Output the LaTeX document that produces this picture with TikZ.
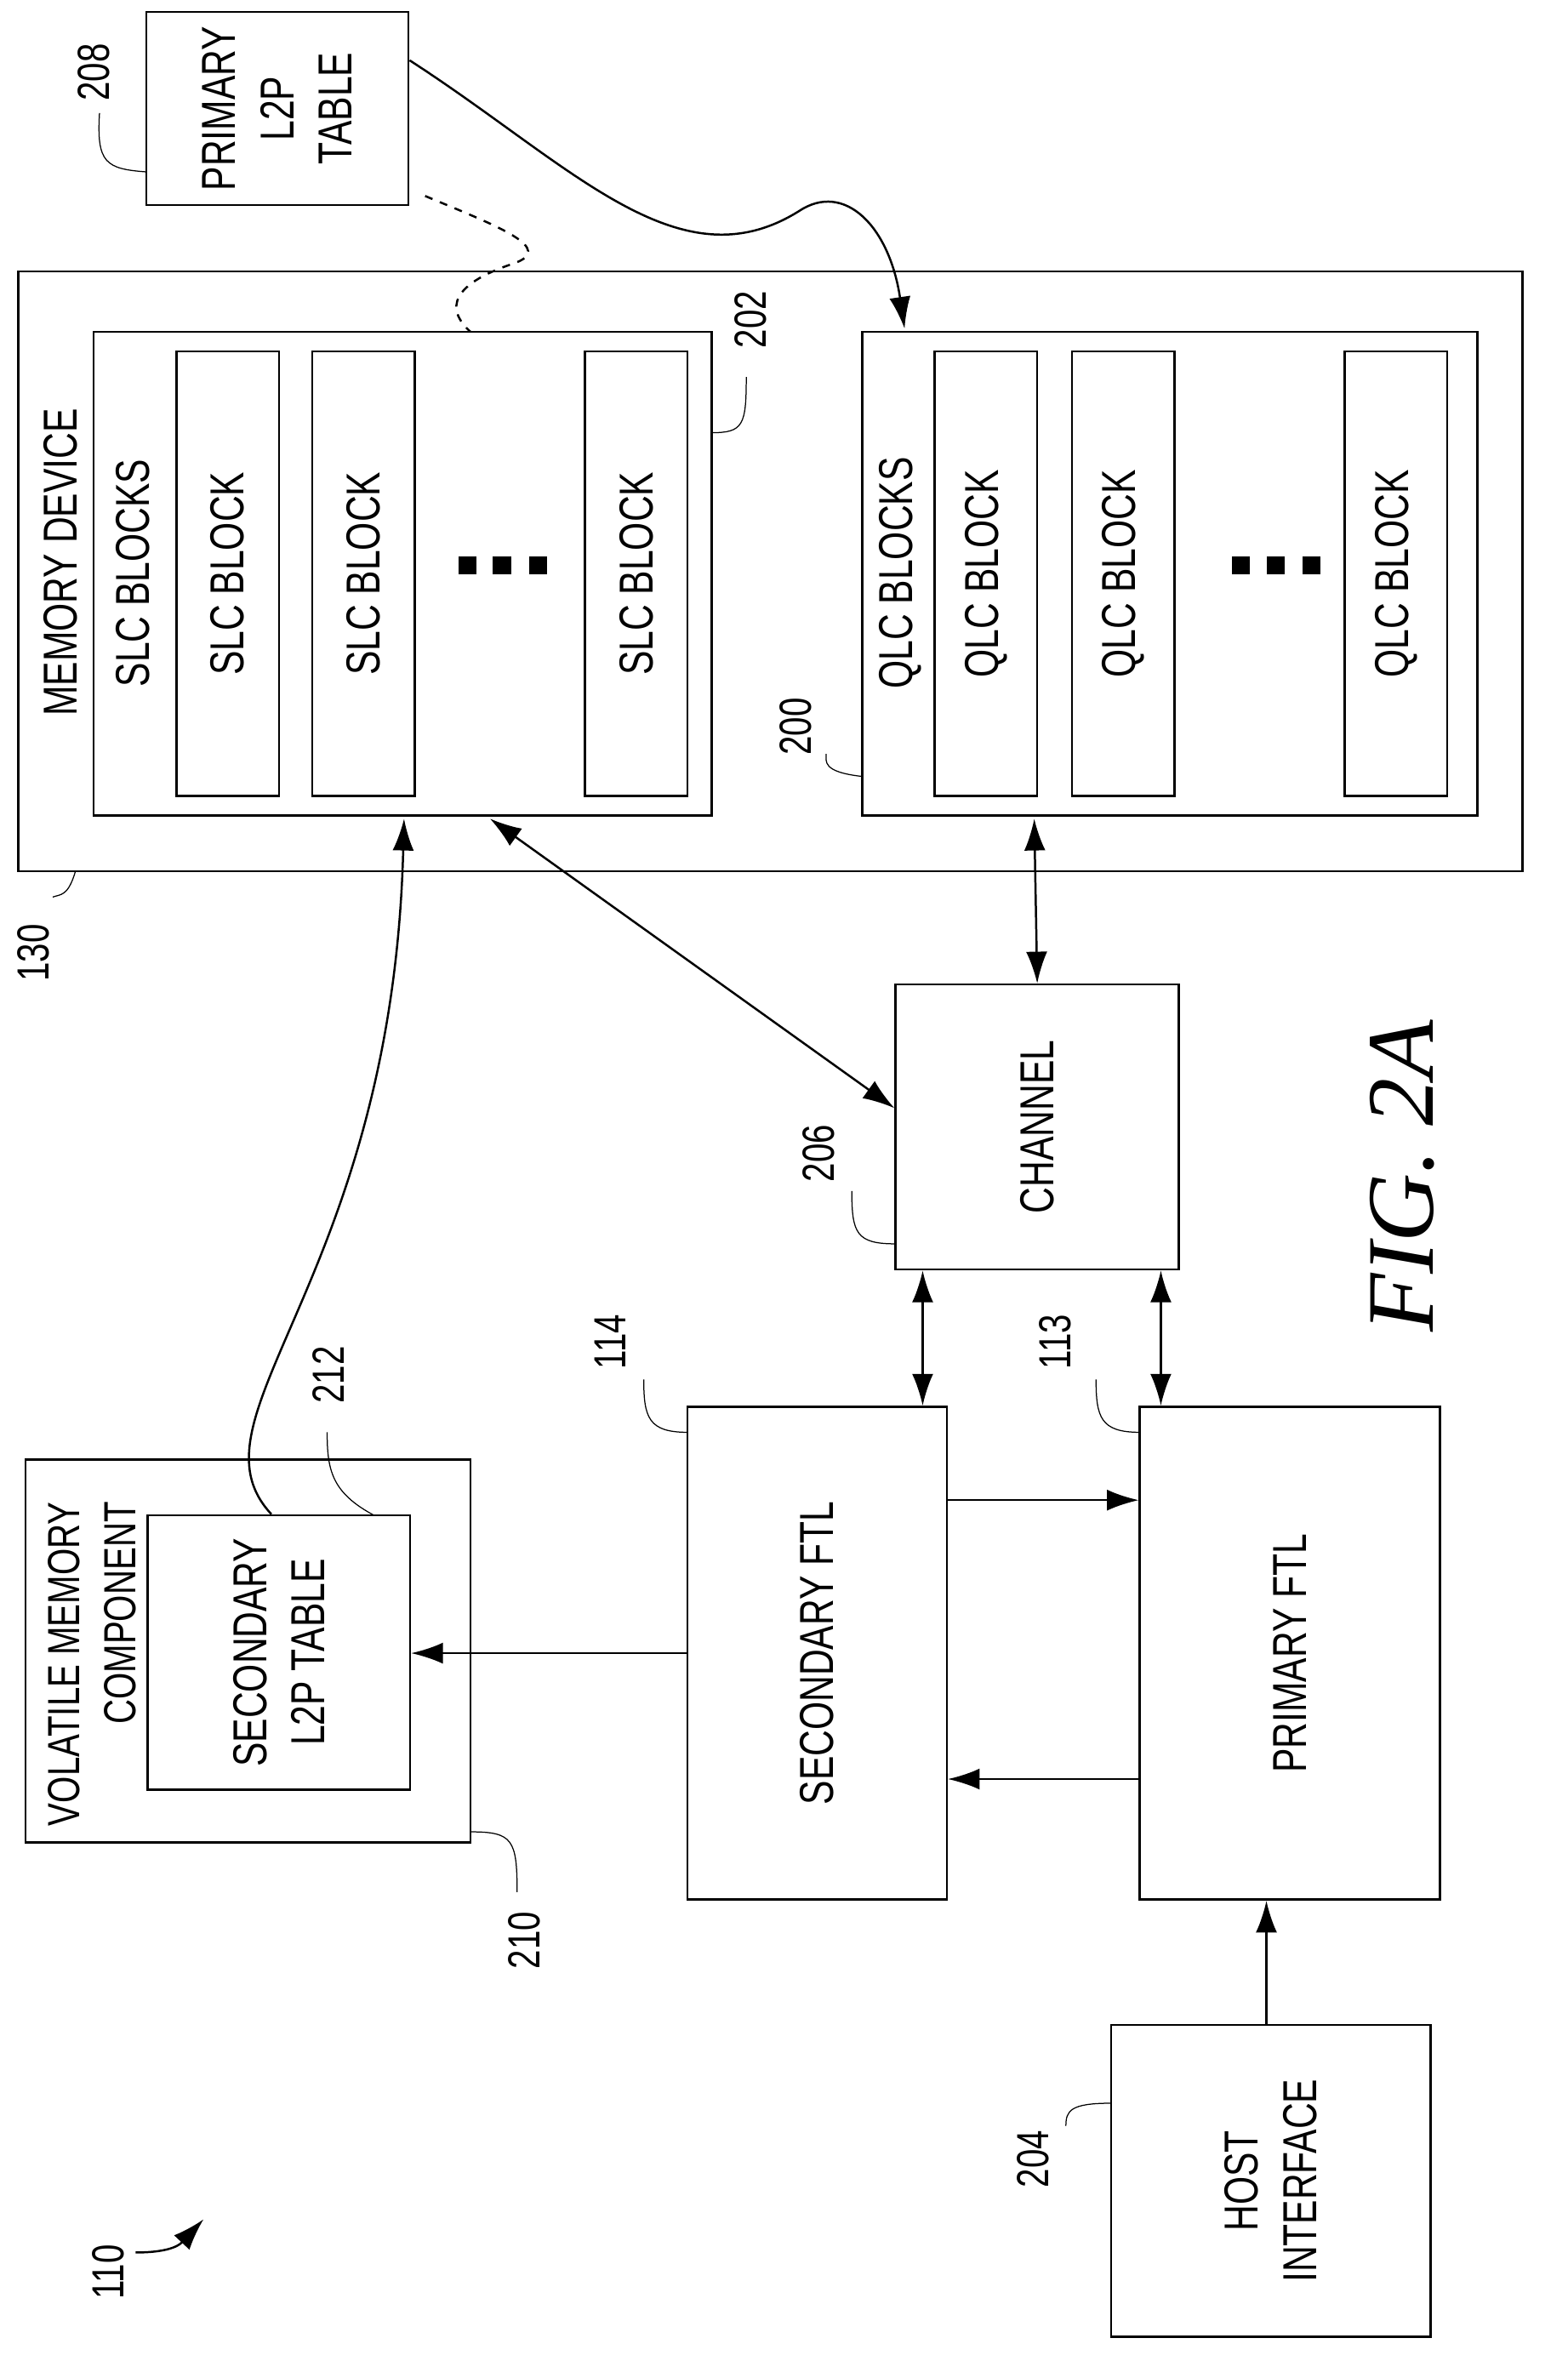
\documentclass[tikz,border=0pt]{standalone}
\usepackage{fontspec}
\setmainfont{Liberation Sans}[FakeStretch=0.76]
\newfontfamily\figfont{Liberation Serif}
\usetikzlibrary{arrows.meta,calc}

\tikzset{
  box/.style={draw,line width=0.8pt,inner sep=0pt},
  lbl/.style={rotate=90,font=\fontsize{18}{22}\selectfont,align=center},
  num/.style={rotate=90,font=\fontsize{17}{20}\selectfont},
  tip/.tip={Latex[length=12pt,width=8pt]},
  conn/.style={line width=0.8pt,-tip},
  dconn/.style={line width=0.8pt,tip-tip},
}

\begin{document}
\begin{tikzpicture}[x=0.02cm,y=-0.02cm]
    \useasboundingbox (0,0) rectangle (1040,1566);

    % boxes
    \node[box,minimum width=3.48cm,minimum height=2.56cm] (prim) at (184,72) {};
    \node[lbl] at (prim) {PRIMARY\\L2P\\TABLE};
    \node[box,minimum width=19.96cm,minimum height=7.96cm] (mem) at (511,379) {};
    \node[lbl] at (40,373) {MEMORY DEVICE};
    \node[box,minimum width=8.2cm,minimum height=6.42cm] (slc) at (267,380.5) {};
    \node[lbl] at (88,380) {SLC BLOCKS};
    \node[box,minimum width=8.16cm,minimum height=6.42cm] (qlc) at (776,380.5) {};
    \node[lbl] at (597,380) {QLC BLOCKS};
    \foreach \x [count=\i] in {151,241,422}{
        \node[box,minimum width=1.36cm,minimum height=5.9cm] (s\i) at (\x,380.5) {};
        \node[lbl] at (s\i) {SLC BLOCK};
    }
    \foreach \x [count=\i] in {654,745,926}{
        \node[box,minimum width=1.36cm,minimum height=5.9cm] (q\i) at (\x,380.5) {};
        \node[lbl] at (q\i) {QLC BLOCK};
    }
    \foreach \x in {310,333,357,823,846,870}
        \fill (\x-6,369) rectangle (\x+6,381);

    \node[box,minimum width=3.76cm,minimum height=3.78cm] (chan) at (688,747.5) {};
    \node[lbl] at (chan) {CHANNEL};
    \node[box,minimum width=3.44cm,minimum height=6.54cm] (sftl) at (542,1096.5) {};
    \node[lbl] at (sftl) {SECONDARY FTL};
    \node[box,minimum width=3.98cm,minimum height=6.54cm] (pftl) at (855.5,1096.5) {};
    \node[lbl] at (pftl) {PRIMARY FTL};
    \node[box,minimum width=4.24cm,minimum height=4.14cm] (host) at (843,1446.5) {};
    \node[lbl] at (host) {HOST\\INTERFACE};
    \node[box,minimum width=5.9cm,minimum height=5.08cm] (vol) at (164.5,1095) {};
    \node[lbl,anchor=east,align=right,font=\fontsize{17}{21}\selectfont] at (61,990) {VOLATILE MEMORY\\COMPONENT};
    \node[box,minimum width=3.48cm,minimum height=3.64cm] (sl2p) at (185,1096) {};
    \node[lbl] at (sl2p) {SECONDARY\\L2P TABLE};

    % reference numerals
    \node[num] at (62,48) {208};
    \draw (66,75) .. controls (64,108) and (70,112) .. (97,114);
    \node[num] at (498,212) {202};
    \draw (472,287) .. controls (493,287) and (495,282) .. (495,250);
    \node[num] at (528,482) {200};
    \draw (572,515) .. controls (545,512) and (548,505) .. (548,500);
    \node[num] at (22,632) {130};
    \draw (50,578) .. controls (45,595) and (40,593) .. (35,595);
    \node[num] at (543,765) {206};
    \draw (594,825) .. controls (568,825) and (565,818) .. (565,790);
    \node[num] at (405,890) {114};
    \draw (456,950) .. controls (430,950) and (427,940) .. (427,915);
    \node[num] at (700,890) {113};
    \draw (756,950) .. controls (730,950) and (727,940) .. (727,915);
    \node[num] at (218,912) {212};
    \draw (248,1005) .. controls (220,990) and (217,975) .. (217,950);
    \node[num] at (348,1287) {210};
    \draw (312,1215) .. controls (340,1215) and (343,1220) .. (343,1255);
    \node[num] at (685,1432) {204};
    \draw (737,1395) .. controls (710,1395) and (707,1400) .. (707,1410);
    \node[num] at (72,1507) {110};
    \draw[conn] (90,1494) .. controls (115,1494) and (120,1488) .. (135,1472);

    % connectors
    \draw[conn] (prim.east |- 0,40) .. controls (380,110) and (450,190) .. (530,140) .. controls (560,120) and (590,150) .. (600,218);
    \draw[line width=0.8pt,dashed] (282,130) .. controls (330,150) and (370,165) .. (340,175) .. controls (310,185) and (290,200) .. (312,220);
    \draw[conn] (sl2p.north -| 180,0) .. controls (120,940) and (260,850) .. (268,543);
    \draw[dconn] (325,543) -- (chan.west |- 0,735);
    \draw[dconn] (686,543) -- (chan.north);
    \draw[dconn] (chan.south -| 612,0) -- (sftl.north -| 612,0);
    \draw[dconn] (chan.south -| 770,0) -- (pftl.north -| 770,0);
    \draw[conn] (sftl.east |- 0,995) -- (pftl.west |- 0,995);
    \draw[conn] (pftl.west |- 0,1180) -- (sftl.east |- 0,1180);
    \draw[conn] (sftl.west) -- (sl2p.east |- sftl.west);
    \draw[conn] (host.north -| 840,0) -- (pftl.south -| 840,0);

    \node[rotate=90,font=\figfont\itshape\fontsize{36}{40}\selectfont] at (930,780) {FIG. 2A};
\end{tikzpicture}
\end{document}
